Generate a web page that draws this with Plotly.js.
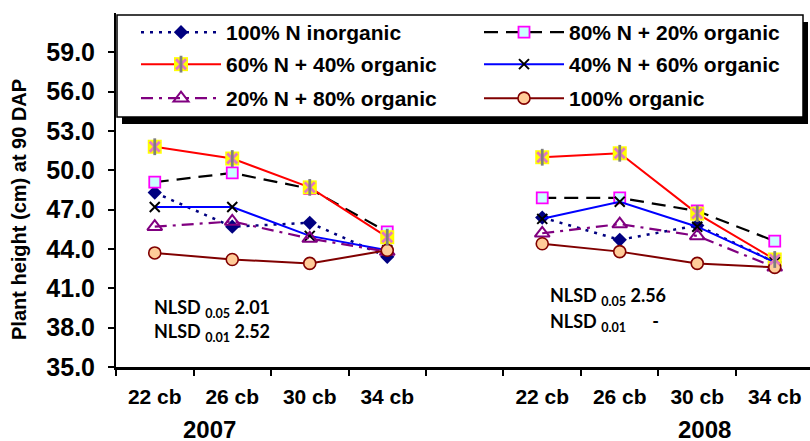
<!DOCTYPE html>
<html>
<head>
<meta charset="utf-8">
<script src="https://cdn.plot.ly/plotly-3.0.1.min.js"></script>
<style>html,body{margin:0;padding:0;background:#fff;}#chart{width:810px;height:441px;}</style>
</head>
<body>
<div id="chart"></div>
<script>
// ---- data ----
var categories = ["22 cb", "26 cb", "30 cb", "34 cb"];
var years = ["2007", "2008"];
var seriesNames = ["100% N inorganic", "80% N + 20% organic", "60% N + 40% organic",
                   "40% N + 60% organic", "20% N + 80% organic", "100% organic"];
var inorganic100_2007 = [48.3, 45.7, 46.0, 43.4];
var inorganic100_2008 = [46.4, 44.7, 45.8, 43.0];
var n80_2007 = [49.1, 49.8, 48.6, 45.3];
var n80_2008 = [47.9, 47.9, 46.9, 44.6];
var n60_2007 = [51.8, 50.9, 48.7, 44.9];
var n60_2008 = [51.0, 51.3, 46.7, 43.2];
var n40_2007 = [47.2, 47.2, 45.0, 43.9];
var n40_2008 = [46.3, 47.6, 45.7, 43.0];
var n20_2007 = [45.7, 46.1, 44.8, 43.8];
var n20_2008 = [45.2, 45.9, 45.0, 42.6];
var organic100_2007 = [43.7, 43.2, 42.9, 43.9];
var organic100_2008 = [44.4, 43.8, 42.9, 42.6];
var yTicks = [35, 38, 41, 44, 47, 50, 53, 56, 59];
var nlsd2007 = ["2.01", "2.52"];
var nlsd2008 = ["2.56", "-"];

// ---- build positions: 4 categories, a gap, 4 categories ----
var nCat = categories.length;
var xPos = [], tickVals = [], tickText = [];
for (var i = 0; i < 2 * nCat + 1; i++) xPos.push(i);
for (var j = 0; j < nCat; j++) { tickVals.push(j); tickText.push(categories[j]); }
for (var j = 0; j < nCat; j++) { tickVals.push(nCat + 1 + j); tickText.push(categories[j]); }
var bounds = [];
for (var b = 0; b <= 2 * nCat + 1; b++) bounds.push(b - 0.5);
function join(a, c) { return a.concat([null]).concat(c); }

var FONT = "Liberation Sans, Arial, sans-serif";

var traces = [
  { name: seriesNames[0], y: join(inorganic100_2007, inorganic100_2008), legend: "legend",
    line: { color: "#000080", width: 2.5, dash: "3px,6px" },
    marker: { symbol: "diamond", size: 11, color: "#000080" } },
  { name: seriesNames[1], y: join(n80_2007, n80_2008), legend: "legend2",
    line: { color: "#000000", width: 2.2, dash: "14px,8px" },
    marker: { symbol: "square", size: 11, color: "#CCFFFF", line: { color: "#FF00FF", width: 1.8 } } },
  { name: seriesNames[2], y: join(n60_2007, n60_2008), legend: "legend3",
    line: { color: "#FF0000", width: 2 },
    marker: { symbol: "square", size: 14, color: "#FFFF00", line: { width: 0 } } },
  { name: seriesNames[3], y: join(n40_2007, n40_2008), legend: "legend4",
    line: { color: "#0000FF", width: 2 },
    marker: { symbol: "x-thin-open", size: 10, color: "#000000", line: { color: "#000000", width: 2 } } },
  { name: seriesNames[4], y: join(n20_2007, n20_2008), legend: "legend5",
    line: { color: "#800080", width: 2.2, dash: "12px,6px,3px,6px" },
    marker: { symbol: "triangle-up-open", size: 13, color: "#800080", line: { color: "#800080", width: 2 } } },
  { name: seriesNames[5], y: join(organic100_2007, organic100_2008), legend: "legend6",
    line: { color: "#800000", width: 2 },
    marker: { symbol: "circle", size: 12, color: "#FFCC99", line: { color: "#800000", width: 1.6 } } }
].map(function (t) {
  t.type = "scatter"; t.mode = "lines+markers"; t.x = xPos; t.connectgaps = false; t.hoverinfo = "skip";
  return t;
});
// red asterisk drawn over the yellow squares (X arms + vertical arm); their legend
// entries sit exactly on top of the yellow square in the legend
traces.push({ type: "scatter", mode: "markers", x: xPos, y: join(n60_2007, n60_2008), name: " ",
  legend: "legend7", hoverinfo: "skip",
  marker: { symbol: "x-thin-open", size: 10, line: { color: "#FF0000", width: 2.8 } } });
traces.push({ type: "scatter", mode: "markers", x: xPos, y: join(n60_2007, n60_2008), name: " ",
  legend: "legend8", hoverinfo: "skip",
  marker: { symbol: "line-ns-open", size: 12, line: { color: "#FF0000", width: 2.8 } } });

// pixel helpers for paper coordinates
var L = 116, T = 13, W = 694, H = 354;
function px(x) { return (x - L) / W; }
function py(y) { return (T + H - y) / H; }

function mkLegend(leftPx, topPx) {
  return {
    orientation: "v", xanchor: "left", yanchor: "top", bgcolor: "rgba(0,0,0,0)", borderwidth: 0,
    itemwidth: 80, x: px(leftPx), y: py(topPx),
    font: { family: FONT, size: 21, weight: "bold", color: "#000" }
  };
}

var annFont = { family: "Lato, Open Sans, sans-serif", size: 18, weight: "bold", color: "#000" };
var yearFont = { family: FONT, size: 24, weight: "bold", color: "#000" };
var annotations = [
  { xref: "x", yref: "paper", x: 0.70, y: py(429), text: years[0], showarrow: false,
    xanchor: "center", yanchor: "middle", font: yearFont },
  { xref: "x", yref: "paper", x: 7.09, y: py(429), text: years[1], showarrow: false,
    xanchor: "center", yanchor: "middle", font: yearFont },
  { xref: "x", yref: "y", x: -0.04, y: 39.5, text: "NLSD <sub>0.05</sub> " + nlsd2007[0], showarrow: false,
    xanchor: "left", yanchor: "middle", font: annFont },
  { xref: "x", yref: "y", x: -0.04, y: 37.6, text: "NLSD <sub>0.01</sub> " + nlsd2007[1], showarrow: false,
    xanchor: "left", yanchor: "middle", font: annFont },
  { xref: "x", yref: "y", x: 5.07, y: 40.4, text: "NLSD <sub>0.05</sub> " + nlsd2008[0], showarrow: false,
    xanchor: "left", yanchor: "middle", font: annFont },
  { xref: "x", yref: "y", x: 5.07, y: 38.4, text: "NLSD <sub>0.01</sub>\u00a0\u00a0\u00a0\u00a0\u00a0\u00a0" + nlsd2008[1], showarrow: false,
    xanchor: "left", yanchor: "middle", font: annFont },
  { xref: "paper", yref: "paper", x: px(19), y: py(210), text: "Plant height (cm) at 90 DAP", showarrow: false,
    textangle: -90, xanchor: "center", yanchor: "middle", font: { family: FONT, size: 20, weight: "bold", color: "#000" } }
];

var layout = {
  width: 810, height: 441,
  margin: { l: L, r: 0, t: T, b: 441 - T - H, pad: 0 },
  paper_bgcolor: "#fff", plot_bgcolor: "#fff",
  showlegend: true,
  legend: mkLegend(136, 12), legend2: mkLegend(479, 12),
  legend3: mkLegend(136, 44), legend4: mkLegend(479, 44),
  legend5: mkLegend(136, 78), legend6: mkLegend(479, 78),
  legend7: mkLegend(136, 44), legend8: mkLegend(136, 44),
  xaxis: {
    range: [-0.5, 8.455], showgrid: false, zeroline: false,
    showline: true, linecolor: "#000", linewidth: 3,
    tickmode: "array", tickvals: tickVals, ticktext: tickText, ticks: "",
    ticklabelstandoff: 9,
    tickfont: { family: FONT, size: 21, weight: "bold", color: "#000" },
    minor: { tickmode: "array", tickvals: bounds, ticks: "outside", ticklen: 6, tickwidth: 2, tickcolor: "#000" }
  },
  yaxis: {
    range: [35, 62], showgrid: false, zeroline: false,
    showline: true, linecolor: "#000", linewidth: 2,
    tickmode: "array", tickvals: yTicks, tickformat: ".1f",
    ticks: "outside", ticklen: 6, tickwidth: 2, tickcolor: "#000",
    ticklabelstandoff: 8,
    tickfont: { family: FONT, size: 25, weight: "bold", color: "#000" }
  },
  shapes: [
    { type: "rect", xref: "paper", yref: "paper", x0: px(122), x1: px(808), y0: py(124), y1: py(22),
      fillcolor: "#000", line: { width: 0 }, layer: "above" },
    { type: "rect", xref: "paper", yref: "paper", x0: px(117), x1: px(803), y0: py(117), y1: py(15),
      fillcolor: "#fff", line: { color: "#000", width: 1.5 }, layer: "above" }
  ],
  annotations: annotations
};

Plotly.newPlot("chart", traces, layout, { displayModeBar: false, staticPlot: true });
</script>
</body>
</html>
